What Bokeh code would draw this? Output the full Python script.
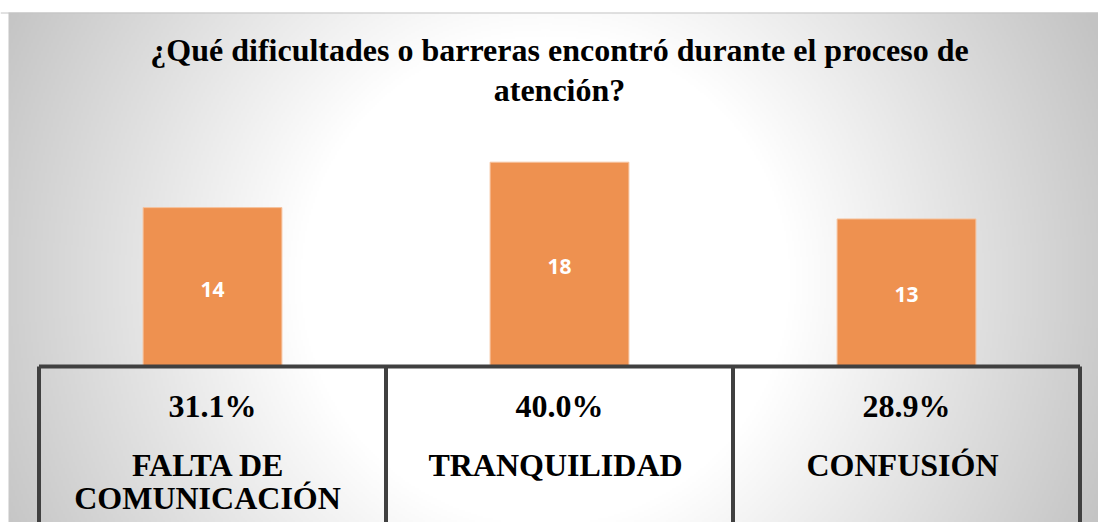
import numpy as np
from bokeh.plotting import figure
from bokeh.models import Range1d, Span, Label
from bokeh.core.properties import value
from bokeh.embed import file_html
from bokeh.resources import INLINE

# ---- data ----
categories = ["FALTA DE\nCOMUNICACIÓN", "TRANQUILIDAD", "CONFUSIÓN"]
counts = [14, 18, 13]
percents = ["31.1%", "40.0%", "28.9%"]
title_lines = ["¿Qué dificultades o barreras encontró durante el proceso de", "atención?"]

# ---- layout helpers (screen px -> data) ----
W, H = 1098, 522
SX0, SY0 = 0, 0          # figure top-left on screen
CX0, CW = 212.0, 347.0   # centre of first category, category width (px)
ZY, PY = 366.0, 11.35    # screen y of zero, px per unit

def dx(sx):
    return (sx - CX0) / CW

def dy(sy):
    return (ZY - sy) / PY

p = figure(width=W, height=H, output_backend="svg", toolbar_location=None,
           x_range=Range1d(dx(SX0), dx(SX0 + W)), y_range=Range1d(dy(SY0 + H), dy(SY0)),
           min_border=0, outline_line_color=None,
           background_fill_color="white", border_fill_color="white")
p.axis.visible = False
p.grid.visible = False

# ---- radial gradient background (chart area from x=8, y=12) ----
BX0, BY0 = 8, 12
gw, gh = 545, 255
xs = BX0 + (np.arange(gw) + 0.5) * ((SX0 + W - BX0) / gw)
ys = (SY0 + H) - (np.arange(gh) + 0.5) * ((SY0 + H - BY0) / gh)
XX, YY = np.meshgrid(xs, ys)
d = np.sqrt((XX - 545.0) ** 2 + (YY - 280.0) ** 2)
g = np.clip(255 - 0.165 * np.clip(d - 245, 0, None), 195, 255).astype(np.uint32)
img = (255 << 24) | (g << 16) | (g << 8) | g
p.image_rgba(image=[img.astype(np.uint32)], x=dx(BX0), y=dy(SY0 + H),
             dw=dx(SX0 + W) - dx(BX0), dh=dy(BY0) - dy(SY0 + H))
p.add_layout(Span(location=dy(BY0 + 0.5), dimension="width", line_color="#C4C4C4", line_width=1))

# ---- bars ----
idx = list(range(len(counts)))
p.vbar(x=idx, top=counts, bottom=0, width=0.4, fill_color="#EE9150",
       line_color="#F6C39E", line_width=1)
p.text(x=idx, y=[c / 2 for c in counts], text=[str(c) for c in counts],
       text_color="white", text_font=value("Open Sans"), text_font_style="bold",
       text_font_size="21px", text_align="center", text_baseline="middle", y_offset=2)

# ---- table lines ----
n = len(counts)
p.segment(x0=[-0.5], y0=[0], x1=[n - 0.5], y1=[0], line_color="#404040", line_width=4)
p.segment(x0=[i - 0.5 for i in range(n + 1)], y0=[0] * (n + 1),
          x1=[i - 0.5 for i in range(n + 1)], y1=[dy(540)] * (n + 1),
          line_color="#404040", line_width=4)

# ---- table text ----
serif = value("Liberation Serif")
p.text(x=idx, y=[0] * n, text=percents, text_font=serif, text_font_style="bold",
       text_font_size="32px", text_color="black", text_align="center",
       text_baseline="alphabetic", y_offset=405 - ZY)
line1 = [c.split("\n")[0] for c in categories]
line2 = [c.split("\n")[1] if "\n" in c else "" for c in categories]
p.text(x=idx, y=[0] * n, text=line1, text_font=serif, text_font_style="bold",
       text_font_size="32px", text_color="black", text_align="center",
       text_baseline="alphabetic", y_offset=464 - ZY, x_offset=-4)
p.text(x=idx, y=[0] * n, text=line2, text_font=serif, text_font_style="bold",
       text_font_size="32px", text_color="black", text_align="center",
       text_baseline="alphabetic", y_offset=497 - ZY, x_offset=-5)

# ---- title ----
for t, base in zip(title_lines, [49, 89]):
    p.add_layout(Label(x=dx(559), y=dy(base), text=t, text_font="Liberation Serif",
                       text_font_style="bold", text_font_size="32px", text_color="black",
                       text_align="center", text_baseline="alphabetic"))

open("out.html", "w").write(file_html(p, INLINE))
